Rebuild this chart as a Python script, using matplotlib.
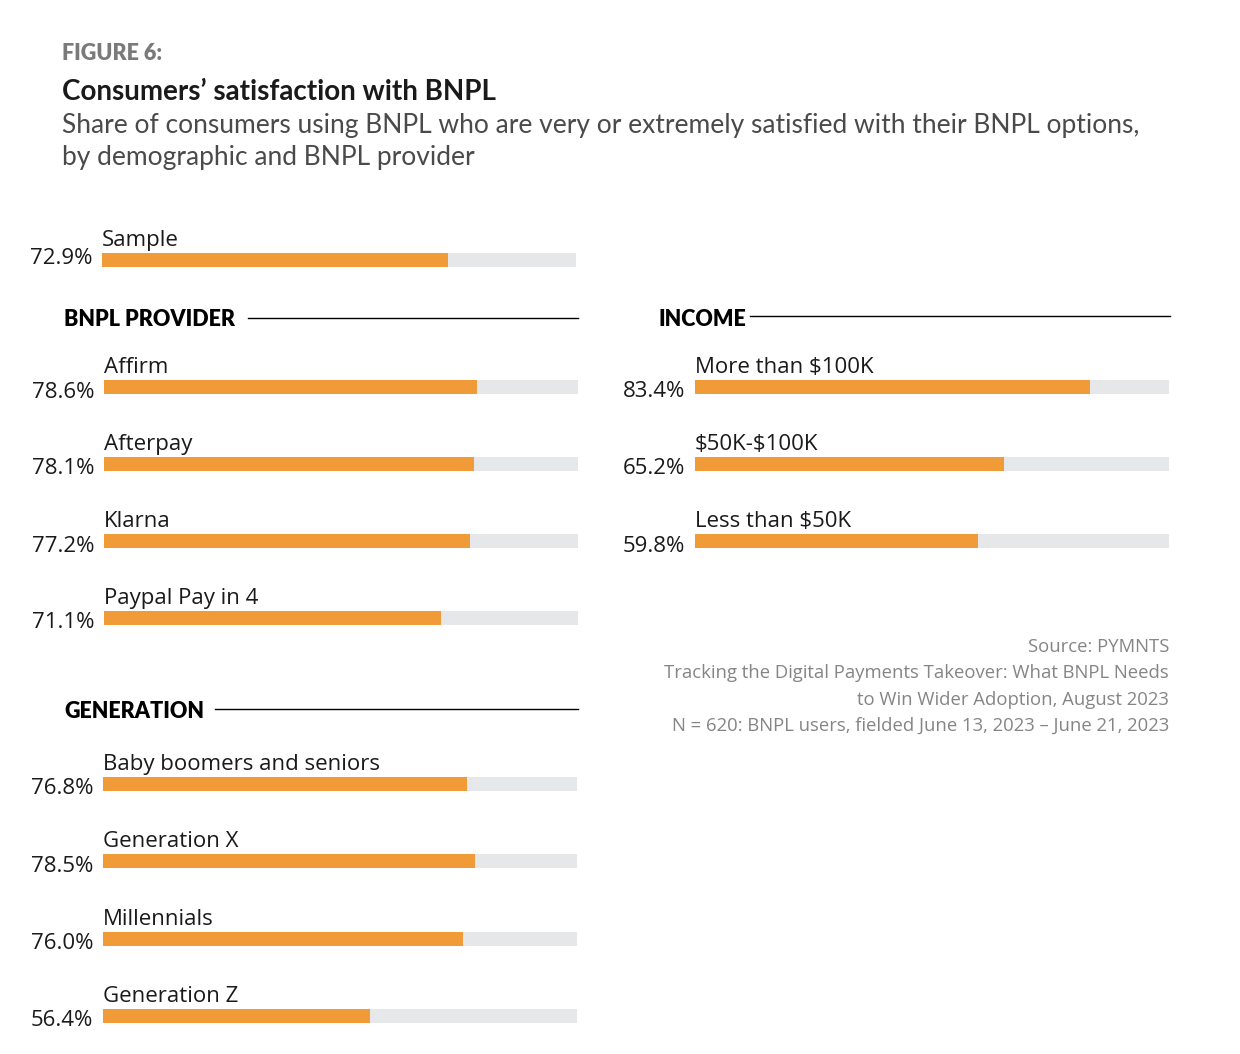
import matplotlib.pyplot as plt
from matplotlib.lines import Line2D

# ── DATA ─────────────────────────────────────────────
sample_labels = ["Sample"]
sample_values = [72.9]

provider_labels = ["Affirm", "Afterpay", "Klarna", "Paypal Pay in 4"]
provider_values = [78.6, 78.1, 77.2, 71.1]

generation_labels = ["Baby boomers and seniors", "Generation X", "Millennials", "Generation Z"]
generation_values = [76.8, 78.5, 76.0, 56.4]

income_labels = ["More than \\$100K", "\\$50K-\\$100K", "Less than \\$50K"]
income_values = [83.4, 65.2, 59.8]

ORANGE = "#F09A38"
TRACK = "#E6E7E8"
W, H = 1240, 1054

fig = plt.figure(figsize=(W / 100, H / 100), dpi=100)
fig.patch.set_facecolor("white")


def fx(x):
    return x / W


def fy(y):
    return 1 - y / H


LABEL_FONT = ["Open Sans", "DejaVu Sans"]
HEAD_FONT = ["Lato", "DejaVu Sans"]

# ── HEADER ───────────────────────────────────────────
fig.text(fx(62), fy(53), "FIGURE 6:", fontsize=15.5, fontweight="heavy",
         color="#7a7a7a", va="center", family=HEAD_FONT)
fig.text(fx(62), fy(92), "Consumers\u2019 satisfaction with BNPL", fontsize=20,
         fontweight="bold", color="#1a1a1a", va="center", family=HEAD_FONT)
fig.text(fx(62), fy(125),
         "Share of consumers using BNPL who are very or extremely satisfied with their BNPL options,",
         fontsize=19, fontweight="normal", color="#4a4a4a", va="center", family=HEAD_FONT)
fig.text(fx(62), fy(157), "by demographic and BNPL provider", fontsize=19,
         fontweight="normal", color="#4a4a4a", va="center", family=HEAD_FONT)


def bar_group(labels, values, left, first_center, step=77, track_w=474, val_shift=5):
    n = len(labels)
    top = first_center - step / 2
    ax = fig.add_axes([fx(left), fy(top + n * step), track_w / W, n * step / H])
    bh = 14 / step
    ys = list(range(n))
    ax.barh(ys, [100] * n, height=bh, color=TRACK, left=0)
    ax.barh(ys, values, height=bh, color=ORANGE, left=0)
    ax.set_xlim(0, 100)
    ax.set_ylim(n - 0.5, -0.5)
    ax.axis("off")
    for i, (lab, v) in enumerate(zip(labels, values)):
        ax.text(0, i - bh / 2 - 7 / step, lab, fontsize=16, color="#1a1a1a",
                ha="left", va="baseline", family=LABEL_FONT)
        ax.text(-2.1, i + val_shift / step, f"{v:.1f}%", fontsize=16, color="#1a1a1a",
                ha="right", va="center", family=LABEL_FONT)
    return ax


def section(title, x, y, line_x0, line_x1, line_y):
    fig.text(fx(x), fy(y), title, fontsize=15.5, fontweight="heavy",
             color="black", va="center", family=HEAD_FONT)
    fig.add_artist(Line2D([fx(line_x0), fx(line_x1)], [fy(line_y), fy(line_y)],
                          color="black", linewidth=1.0))


bar_group(sample_labels, sample_values, 102, 260, val_shift=-1)

section("BNPL PROVIDER", 64, 320, 248, 578, 318)
bar_group(provider_labels, provider_values, 104, 387)

section("GENERATION", 64, 712, 215, 578, 709)
bar_group(generation_labels, generation_values, 103, 784, step=77.3)

section("INCOME", 658, 320, 750, 1170, 316)
bar_group(income_labels, income_values, 695, 387)

# ── SOURCE ───────────────────────────────────────────
source_lines = [
    "Source: PYMNTS",
    "Tracking the Digital Payments Takeover: What BNPL Needs",
    "to Win Wider Adoption, August 2023",
    "N = 620: BNPL users, fielded June 13, 2023 \u2013 June 21, 2023",
]
for k, line in enumerate(source_lines):
    fig.text(fx(1169), fy(647 + 26.3 * k), line, fontsize=13.3, color="#858585",
             ha="right", va="center", family=LABEL_FONT)

fig.savefig("out.png", dpi=100)
